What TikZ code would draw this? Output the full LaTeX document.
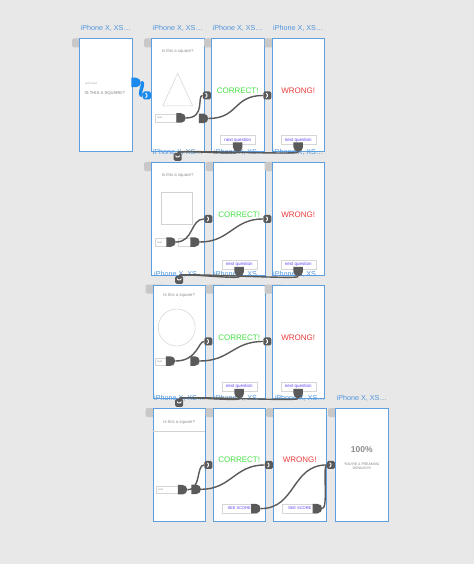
\documentclass[tikz,border=0pt]{standalone}
\usepackage{fontspec}
\setmainfont{Liberation Sans}
\usepackage{xcolor}
\usetikzlibrary{shapes.misc,positioning}

\definecolor{bggray}{HTML}{E8E8E8}
\definecolor{tabgray}{HTML}{C8C8C8}
\definecolor{frameblue}{HTML}{5E9FE0}
\definecolor{labelblue}{HTML}{4F95DC}
\definecolor{wiregray}{HTML}{5A5A5A}
\definecolor{xdblue}{HTML}{1B8AEF}
\definecolor{shapegray}{HTML}{D2D2D2}
\definecolor{okgreen}{HTML}{46E046}
\definecolor{badred}{HTML}{EC3B3B}
\definecolor{btnblue}{HTML}{5B45F2}
\definecolor{fieldedge}{HTML}{D6D6D6}
\definecolor{textgray}{HTML}{8C8C8C}

\tikzset{
  screen/.style={draw=frameblue, fill=white, line width=0.9pt, minimum width=52.5pt,
    minimum height=113pt, inner sep=0pt, anchor=north west},
  devlabel/.style={text=labelblue, anchor=west, inner sep=0pt, font=\fontsize{7.2}{8}\selectfont},
  badgebase/.style={fill=wiregray, rounded corners=1.5pt, minimum size=8pt, inner sep=0pt},
  gobadge/.style={badgebase, path picture={
    \draw[white, line width=0.9pt, line cap=round, line join=round]
      ([shift={(-1pt,2pt)}]path picture bounding box.center) --
      ([shift={(1.2pt,0pt)}]path picture bounding box.center) --
      ([shift={(-1pt,-2pt)}]path picture bounding box.center);}},
  downbadge/.style={badgebase, path picture={
    \draw[white, line width=0.9pt, line cap=round, line join=round]
      ([shift={(-2pt,1pt)}]path picture bounding box.center) --
      ([shift={(0pt,-1.2pt)}]path picture bounding box.center) --
      ([shift={(2pt,1pt)}]path picture bounding box.center);}},
  plug/.style={fill=wiregray, rounded rectangle, rounded rectangle left arc=none,
    minimum width=8.5pt, minimum height=9.5pt, inner sep=0pt},
  wire/.style={draw=wiregray, line width=1.4pt},
  xdlink/.style={draw=xdblue, line width=3.4pt},
  qtext/.style={text=textgray, inner sep=0pt, font=\fontsize{4.3}{5}\selectfont},
  capsline/.style={text=textgray!90!black, inner sep=0pt, font=\fontsize{4.2}{5}\selectfont},
  okword/.style={text=okgreen, inner sep=0pt, font=\fontsize{8}{9}\selectfont},
  badword/.style={text=badred, inner sep=0pt, font=\fontsize{8}{9}\selectfont},
  qbtn/.style={draw=fieldedge, fill=white, line width=0.4pt, minimum width=35pt,
    minimum height=9pt, inner sep=0pt, text=btnblue, font=\fontsize{4.5}{5}\selectfont},
  field/.style={draw=fieldedge, fill=white, line width=0.4pt, minimum height=7.5pt,
    inner xsep=2pt, inner ysep=0pt, align=left, anchor=west, text=textgray,
    font=\fontsize{2.6}{3}\selectfont},
  shapeline/.style={draw=shapegray, line width=0.5pt}
}

\begin{document}
\begin{tikzpicture}[x=1pt,y=-1pt]
% Canvas
\fill[bggray] (0,0) rectangle (474,564);
\useasboundingbox (0,0) rectangle (474,564);

% Artboards (name/left/top)
\foreach \n/\x/\y in {A/79/38.5, B1/151/38.5, C1/211/38.5, D1/271.5/38.5,
    B2/151/162, C2/212.5/162, D2/271.5/162,
    B3/152.5/284.5, C3/212.5/284.5, D3/271.5/284.5,
    B4/152.5/408, C4/212.5/408, D4/273/408, E/335/408} {
  \fill[tabgray, rounded corners=2pt] (\x-7,\y) rectangle (\x+12,\y+9);
  \node[screen] (\n) at (\x,\y) {};
  \node[devlabel] at (\x+1.5,\y-10) {iPhone X, XS…};
}

% Start screen
\node[capsline, anchor=west, font=\fontsize{2.2}{2.5}\selectfont] at (85,84) {LET'S PLAY};
\node[capsline, anchor=west] at (84.5,93) {IS THIS A SQUARE?};
\node[plug, fill=xdblue] (Aout) at (136,82.5) {};
\node[gobadge, fill=xdblue, left=0pt of B1] (B1in) {};
\draw[xdlink] (Aout.east) .. controls +(5,0) and +(-6,0) .. (B1in.west);

% Row 1: triangle
\node[qtext] at ([yshift=-13pt]B1.north) {Is this a square?};
\draw[shapeline] (177.7,73.3) -- (162.7,106) -- (192.7,106) -- cycle;
\node[field, text width=17pt] at (155,118) {next};
\node[plug] (P1a) at (181,118) {};
\node[plug] (P1b) at (203.5,118.5) {};
\node[okword] at ([yshift=4.5pt]C1.center) {CORRECT!};
\node[badword] at ([yshift=4.5pt]D1.center) {WRONG!};
\node[qbtn] (C1btn) at ([yshift=12.5pt]C1.south) {next question};
\node[qbtn] (D1btn) at ([yshift=12.5pt]D1.south) {next question};
\node[plug, rotate=-90] (C1out) at ([yshift=-2.5pt]C1btn.south) {};
\node[plug, rotate=-90] (D1out) at ([yshift=-2.5pt]D1btn.south) {};
\node[gobadge, left=0pt of C1] (C1in) {};
\node[gobadge, left=0pt of D1] (D1in) {};
\node[downbadge, above=1pt of B2] (B2in) {};
\draw[wire] (P1a.east) .. controls +(20,0) and +(-6,0) .. (C1in.west);
\draw[wire] (P1b.east) .. controls +(30,0) and +(-30,0) .. (D1in.west);
\draw[wire] (C1out.east) .. controls +(0,3) and +(0,-3) .. (B2in.north);
\draw[wire] (D1out.east) .. controls +(0,3) and +(0,-3) .. (B2in.north);

% Row 2: square
\node[qtext] at ([yshift=-13pt]B2.north) {Is this a square?};
\draw[shapeline] (161.7,192.3) rectangle (192.3,224);
\node[field, text width=9pt] at (155,242.3) {next};
\node[field, text width=9.5pt] at (178,242.3) {};
\node[plug] (P2a) at (171,242) {};
\node[plug] (P2b) at (195,242) {};
\node[okword] at ([yshift=4.5pt]C2.center) {CORRECT!};
\node[badword] at ([yshift=4.5pt]D2.center) {WRONG!};
\node[qbtn] (C2btn) at ([yshift=11.5pt]C2.south) {next question};
\node[qbtn] (D2btn) at ([yshift=11.5pt]D2.south) {next question};
\node[plug, rotate=-90] (C2out) at ([yshift=-2.5pt]C2btn.south) {};
\node[plug, rotate=-90] (D2out) at ([yshift=-2.5pt]D2btn.south) {};
\node[gobadge, left=0pt of C2] (C2in) {};
\node[gobadge, left=0pt of D2] (D2in) {};
\node[downbadge, above=0.5pt of B3] (B3in) {};
\draw[wire] (P2a.east) .. controls +(18,0) and +(-14,0) .. (C2in.west);
\draw[wire] (P2b.east) .. controls +(30,0) and +(-30,0) .. (D2in.west);
\draw[wire] (C2out.east) .. controls +(0,3) and +(0,-3) .. (B3in.north);
\draw[wire] (D2out.east) .. controls +(0,3) and +(0,-3) .. (B3in.north);

% Row 3: circle
\node[qtext] at ([yshift=-10.5pt]B3.north) {Is this a square?};
\draw[shapeline] (176.7,327.5) circle (18.5);
\node[field, text width=14pt] at (155,361.8) {next};
\node[plug] (P3a) at (170.5,361) {};
\node[plug] (P3b) at (195,361) {};
\node[okword] at ([yshift=4pt]C3.center) {CORRECT!};
\node[badword] at ([yshift=4pt]D3.center) {WRONG!};
\node[qbtn] (C3btn) at ([yshift=12pt]C3.south) {next question};
\node[qbtn] (D3btn) at ([yshift=12pt]D3.south) {next question};
\node[plug, rotate=-90] (C3out) at ([yshift=-2.5pt]C3btn.south) {};
\node[plug, rotate=-90] (D3out) at ([yshift=-2.5pt]D3btn.south) {};
\node[gobadge, left=0pt of C3] (C3in) {};
\node[gobadge, left=0pt of D3] (D3in) {};
\node[downbadge, above=1pt of B4] (B4in) {};
\draw[wire] (P3a.east) .. controls +(22,0) and +(-6,0) .. (C3in.west);
\draw[wire] (P3b.east) .. controls +(30,0) and +(-30,0) .. (D3in.west);
\draw[wire] (C3out.east) .. controls +(0,3) and +(0,-3) .. (B4in.north);
\draw[wire] (D3out.east) .. controls +(0,3) and +(0,-3) .. (B4in.north);

% Row 4: last question and score
\node[qtext] at ([yshift=-14pt]B4.north) {Is this a square?};
\draw[shapeline] (153,431) -- (205,431);
\node[field, text width=18pt] at (156,489.7) {next};
\node[plug] (P4a) at (182.5,489.7) {};
\node[plug] (P4b) at (196.2,489.3) {};
\node[okword] at ([yshift=5.5pt]C4.center) {CORRECT!};
\node[badword] at ([yshift=5.5pt]D4.center) {WRONG!};
\node[qbtn, font=\fontsize{4}{5}\selectfont] (C4btn) at ([yshift=13.3pt]C4.south) {SEE SCORE};
\node[qbtn, font=\fontsize{4}{5}\selectfont] (D4btn) at ([yshift=13.3pt]D4.south) {SEE SCORE};
\node[plug] (C4out) at ([xshift=-1pt]C4btn.east) {};
\node[plug] (D4out) at (D4btn.east) {};
\node[gobadge, left=0pt of C4] (C4in) {};
\node[gobadge, left=0pt of D4] (D4in) {};
\node[gobadge, left=0pt of E] (Ein) {};
\node[text=textgray, inner sep=0pt, font=\bfseries\fontsize{8.5}{9}\selectfont]
  at ([yshift=15.5pt]E.center) {100\%};
\node[capsline, align=center, font=\fontsize{3.5}{4.6}\selectfont]
  at ([yshift=-1.5pt]E.center) {YOU'RE A FREAKING\\GENIUS!!!!!};
\draw[wire] (P4a.east) .. controls +(14,0) and +(-8,0) .. (C4in.west);
\draw[wire] (P4b.east) .. controls +(30,0) and +(-30,0) .. (D4in.west);
\draw[wire] (C4out.east) .. controls +(35,0) and +(-35,0) .. (Ein.west);
\draw[wire] (D4out.east) .. controls +(6,0) and +(-4,0) .. (Ein.west);
\end{tikzpicture}
\end{document}
